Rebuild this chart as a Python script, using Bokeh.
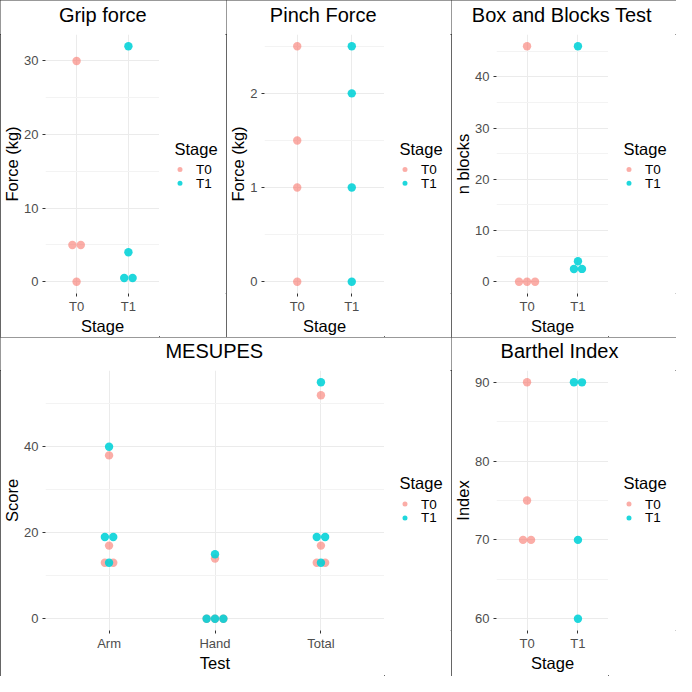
import numpy as np
from bokeh.plotting import figure
from bokeh.models import Range1d, FixedTicker
from bokeh.core.properties import value
from bokeh.layouts import column, row
from bokeh.embed import file_html
from bokeh.resources import INLINE

# ---------------- data ----------------
stages = ["T0", "T1"]
tests = ["Arm", "Hand", "Total"]
legend_title = "Stage"

grip_t0 = [30, 5, 5, 0]
grip_t1 = [32, 4, 0.5, 0.5]
grip_ticks = [0, 10, 20, 30]
grip_minor = [5, 15, 25]

pinch_t0 = [2.5, 1.5, 1, 0]
pinch_t1 = [2.5, 2, 1, 0]
pinch_ticks = [0, 1, 2]
pinch_minor = [0.5, 1.5, 2.5]

bbt_t0 = [46, 0, 0, 0]
bbt_t1 = [46, 4, 2.5, 2.5]
bbt_ticks = [0, 10, 20, 30, 40]
bbt_minor = [5, 15, 25, 35, 45]

mes_arm_t0 = [38, 17, 13, 13]
mes_arm_t1 = [40, 19, 19, 13]
mes_hand_t0 = [14, 0, 0, 0]
mes_hand_t1 = [15, 0, 0, 0]
mes_total_t0 = [52, 17, 13, 13]
mes_total_t1 = [55, 19, 19, 13]
mes_ticks = [0, 20, 40]
mes_minor = [10, 30, 50]

barthel_t0 = [90, 75, 70, 70]
barthel_t1 = [90, 90, 70, 60]
barthel_ticks = [60, 70, 80, 90]
barthel_minor = [65, 75, 85]

# ---------------- style ----------------
FONT = "Liberation Sans"
COLORS = ["#F8766D", "#00D2D7"]
ALPHAS = [0.6, 0.88]
DOT_PX = 8.4


def swarm(values, center, step):
    counts = {}
    for v in values:
        counts[v] = counts.get(v, 0) + 1
    seen = {}
    xs = []
    for v in values:
        n = counts[v]
        i = seen.get(v, 0)
        seen[v] = i + 1
        xs.append(center + (i - (n - 1) / 2) * step)
    return xs


def blank_fig(width, height, frame_h=None, bottom=0):
    fh = height if frame_h is None else frame_h
    f = figure(width=width, height=height,
               x_range=Range1d(0, width), y_range=Range1d(fh, 0),
               output_backend="svg", toolbar_location=None,
               x_axis_type=None, y_axis_type=None,
               min_border_left=0, min_border_right=0,
               min_border_top=0, min_border_bottom=bottom)
    f.grid.visible = False
    f.outline_line_color = None
    f.background_fill_color = "white"
    f.border_fill_color = "white"
    return f


def title_fig(width, height, text, cx, cy):
    tf = blank_fig(width, height)
    tf.text(x=[cx], y=[cy], text=[text], text_font=value(FONT),
            text_font_size="20px", text_baseline="middle",
            text_align="center", text_color="black")
    return tf


def legend_fig(width, height, bottom, title_y):
    lf = blank_fig(width, height, frame_h=height - bottom, bottom=bottom)
    lf.text(x=[15], y=[title_y], text=[legend_title],
            text_font=value(FONT), text_font_size="16.5px",
            text_baseline="middle", text_align="left", text_color="black")
    for k, s in enumerate(stages):
        yy = title_y + 21 + k * 13.8
        lf.scatter(x=[20.5], y=[yy], size=5, fill_color=COLORS[k],
                   fill_alpha=ALPHAS[k], line_color=None)
        lf.text(x=[36.5], y=[yy], text=[s], text_font=value(FONT),
                text_font_size="13.5px", text_baseline="middle",
                text_align="left", text_color="black")
    return lf


def panel(title, xlabel, ylabel, cats, t0_groups, t1_groups, yticks, yminor,
          width, height, left, right, top, bottom, title_x, title_y, legend_y):
    n = len(cats)
    frame_w = width - left - right
    ppu = frame_w / (n + 0.2)
    step = DOT_PX / ppu
    allv = [v for g in t0_groups + t1_groups for v in g]
    lo, hi = min(allv), max(allv)
    pad = 0.05 * (hi - lo)
    body_h = height - top
    p = figure(width=width - right, height=body_h,
               x_range=Range1d(0.4, n + 0.6),
               y_range=Range1d(lo - pad, hi + pad),
               output_backend="svg", toolbar_location=None,
               min_border_left=left, min_border_right=0,
               min_border_top=0, min_border_bottom=bottom)
    p.background_fill_color = "white"
    p.border_fill_color = "white"
    p.outline_line_color = None

    xs_t0, ys_t0, xs_t1, ys_t1 = [], [], [], []
    for i in range(n):
        xs_t0 += swarm(t0_groups[i], i + 1, step)
        ys_t0 += list(t0_groups[i])
        xs_t1 += swarm(t1_groups[i], i + 1, step)
        ys_t1 += list(t1_groups[i])

    p.xaxis.ticker = FixedTicker(ticks=list(range(1, n + 1)))
    p.xaxis.major_label_overrides = {i + 1: c for i, c in enumerate(cats)}
    p.yaxis.ticker = FixedTicker(ticks=yticks, minor_ticks=yminor)

    for ax in (p.xaxis, p.yaxis):
        ax.axis_line_color = None
        ax.major_tick_line_color = "#333333"
        ax.major_tick_line_width = 1
        ax.major_tick_out = 3
        ax.major_tick_in = 0
        ax.minor_tick_out = 0
        ax.minor_tick_in = 0
        ax.major_label_text_font = FONT
        ax.major_label_text_font_size = "13px"
        ax.major_label_text_color = "#4D4D4D"
        ax.axis_label_text_font = FONT
        ax.axis_label_text_font_size = "16.5px"
        ax.axis_label_text_font_style = "normal"
        ax.axis_label_text_color = "black"
    p.xaxis.axis_label = xlabel
    p.yaxis.axis_label = ylabel
    p.xaxis.major_label_standoff = 2
    p.xaxis.axis_label_standoff = 0
    p.yaxis.major_label_standoff = 4
    p.yaxis.axis_label_standoff = 0

    p.xgrid.grid_line_color = "#EBEBEB"
    p.ygrid.grid_line_color = "#EBEBEB"
    p.ygrid.minor_grid_line_color = "#F3F3F3"
    p.xgrid.grid_line_width = 1
    p.ygrid.grid_line_width = 1

    p.scatter(xs_t0, ys_t0, size=DOT_PX, fill_color=COLORS[0],
              fill_alpha=ALPHAS[0], line_color=None)
    p.scatter(xs_t1, ys_t1, size=DOT_PX, fill_color=COLORS[1],
              fill_alpha=ALPHAS[1], line_color=None)

    tf = title_fig(width, top, title, title_x, title_y)
    lf = legend_fig(right, body_h, bottom, legend_y - top)
    return column(tf, row(p, lf),
                  styles={"outline": "1px solid #333333",
                          "outline-offset": "-1px"})


p1 = panel("Grip force", "Stage", "Force (kg)", stages,
           [grip_t0, []], [[], grip_t1], grip_ticks, grip_minor,
           226, 337, 45, 67, 34, 43, 102.3, 14.5, 148.5)
p2 = panel("Pinch Force", "Stage", "Force (kg)", stages,
           [pinch_t0, []], [[], pinch_t1], pinch_ticks, pinch_minor,
           225, 337, 32, 67, 34, 43, 96.7, 14.5, 148.5)
p3 = panel("Box and Blocks Test", "Stage", "n blocks", stages,
           [bbt_t0, []], [[], bbt_t1], bbt_ticks, bbt_minor,
           225, 337, 40, 68, 34, 43, 110.4, 14.5, 148.5)
p4 = panel("MESUPES", "Test", "Score", tests,
           [mes_arm_t0, mes_hand_t0, mes_total_t0],
           [mes_arm_t1, mes_hand_t1, mes_total_t1],
           mes_ticks, mes_minor, 451, 339, 44, 67, 33, 46, 213.8, 13, 145.6)
p5 = panel("Barthel Index", "Stage", "Index", stages,
           [barthel_t0, []], [[], barthel_t1], barthel_ticks, barthel_minor,
           225, 339, 40, 68, 33, 46, 108, 13, 145.6)

layout = column(row(p1, p2, p3), row(p4, p5))
open("out.html", "w").write(file_html(layout, INLINE, title="Outcome measures"))
